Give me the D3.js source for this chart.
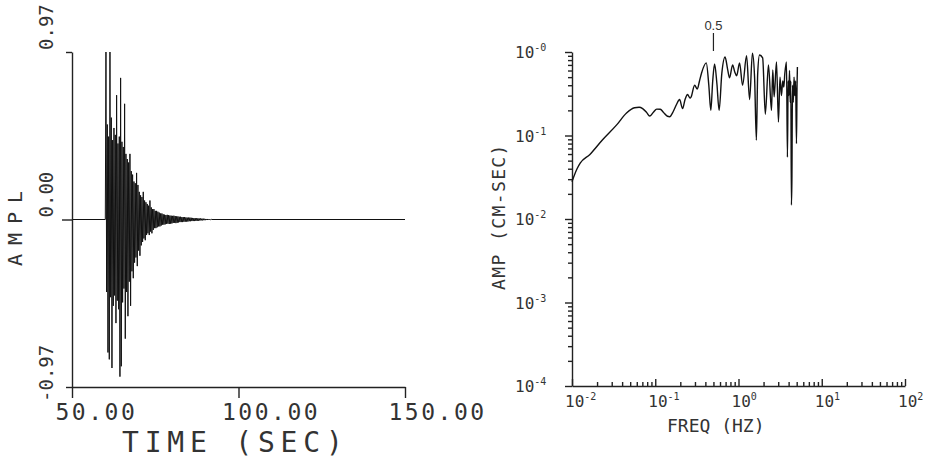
<!DOCTYPE html>
<html lang="en">
<head>
<meta charset="UTF-8">
<script src="https://cdnjs.cloudflare.com/ajax/libs/d3/7.8.5/d3.min.js"></script>
<title>Acceleration record and Fourier spectrum</title>
<style>
    body { margin: 0; background: #fff; }
    svg { display: block; }
    text { font-family: "DejaVu Sans Mono", monospace; fill: #333; }
    .axis path, .axis line { stroke: #222; stroke-width: 1.4; fill: none; }
</style>
</head>
<body>
<svg width="937" height="460"></svg>
<script>
// ---- left panel: time history ----
var timeTicks = [50, 100, 150];
var amplTicks = [-0.97, 0, 0.97];
var amplTickLabels = ["-0.97", "0.00", "0.97"];
var traceStart = 60.0;   // sec, first sample of the strong motion
var traceStep = 0.2;     // sec between samples
var traceValues = [
    0, 0.97, -0.42, 0.55, -0.77, 0.48, -0.81, 0.97, -0.45, 0.59,
    -0.86, 0.46, -0.50, 0.53, -0.44, 0.49, -0.60, 0.72, -0.47, 0.44,
    -0.52, 0.48, -0.91, 0.82, -0.85, 0.45, -0.48, 0.42, -0.40, 0.67,
    -0.69, 0.38, -0.42, 0.35, -0.56, 0.33, -0.36, 0.38, -0.50, 0.28,
    -0.30, 0.26, -0.34, 0.22, -0.25, 0.21, -0.22, 0.27, -0.27, 0.20,
    -0.18, 0.16, -0.21, 0.14, -0.15, 0.13, -0.13, 0.16, -0.11, 0.11,
    -0.12, 0.10, -0.09, 0.09, -0.08, 0.08, -0.09, 0.11, -0.07, 0.07,
    -0.08, 0.06, -0.06, 0.06, -0.05, 0.05, -0.05, 0.05, -0.045, 0.045,
    -0.04, 0.04, -0.04, 0.035, -0.035, 0.035, -0.03, 0.03, -0.03, 0.028,
    -0.028, 0.026, -0.025, 0.027, -0.024, 0.025, -0.026, 0.023, -0.024, 0.022,
    -0.023, 0.021, -0.020, 0.022, -0.019, 0.020, -0.021, 0.018, -0.019, 0.018,
    -0.017, 0.016, -0.015, 0.016, -0.015, 0.014, -0.015, 0.014, -0.013, 0.014,
    -0.013, 0.012, -0.012, 0.011, -0.012, 0.011, -0.010, 0.011, -0.010, 0.010,
    -0.009, 0.009, -0.009, 0.008, -0.009, 0.008, -0.008, 0.007, -0.008, 0.007,
    -0.007, 0.006, -0.006, 0.006, -0.005, 0.005, -0.005, 0.005, -0.004, 0.004,
    -0.004, 0.003, -0.003, 0.003, -0.003, 0.002, -0.002, 0.002, -0.002, 0.001,
    0
];

// ---- right panel: Fourier amplitude spectrum ----
var freqTicks = [0.01, 0.1, 1, 10, 100];
var freqTickExp = ["-2", "-1", "0", "1", "2"];
var ampTicks = [1e-4, 1e-3, 1e-2, 1e-1, 1];
var ampTickExp = ["-4", "-3", "-2", "-1", "-0"];
var markerFreq = 0.5;
var specFreq = [
    0.010, 0.0115, 0.0126, 0.0163, 0.0233, 0.0344, 0.0452, 0.0564, 0.0640, 0.0706,
    0.0790, 0.0857, 0.0950, 0.104, 0.115, 0.125, 0.140, 0.149, 0.165, 0.180,
    0.196, 0.213, 0.228, 0.244, 0.262, 0.270, 0.297, 0.320, 0.340, 0.360,
    0.410, 0.440, 0.465, 0.490, 0.516, 0.550, 0.585, 0.630, 0.690, 0.740,
    0.780, 0.850, 0.900, 0.950, 1.03, 1.12, 1.25, 1.36, 1.47, 1.56,
    1.64, 1.70, 1.79, 1.95, 2.10, 2.29, 2.49, 2.58, 2.68, 2.86,
    3.02, 3.15, 3.28, 3.40, 3.50, 3.60, 3.77, 3.87, 3.95, 4.02,
    4.10, 4.18, 4.25, 4.32, 4.38, 4.45, 4.55, 4.65, 4.75, 4.85,
    4.97, 5.05, 5.10
];
var specAmp = [
    0.028, 0.040, 0.047, 0.059, 0.089, 0.134, 0.186, 0.215, 0.218, 0.210,
    0.188, 0.171, 0.190, 0.207, 0.206, 0.190, 0.170, 0.168, 0.195, 0.235,
    0.27, 0.21, 0.27, 0.31, 0.28, 0.29, 0.40, 0.36, 0.45, 0.56,
    0.74, 0.40, 0.20, 0.45, 0.72, 0.42, 0.20, 0.55, 0.87, 0.62,
    0.49, 0.70, 0.58, 0.52, 0.74, 0.40, 0.90, 0.27, 0.97, 0.50,
    0.088, 0.55, 0.92, 0.85, 0.18, 0.70, 0.20, 0.61, 0.29, 0.76,
    0.145, 0.50, 0.30, 0.45, 0.38, 0.55, 0.76, 0.055, 0.45, 0.30,
    0.60, 0.25, 0.45, 0.0147, 0.03, 0.40, 0.25, 0.50, 0.30, 0.45,
    0.08, 0.40, 0.66
];

var svg = d3.select("svg");

// ================= left panel =================
var xT = d3.scaleLinear().domain([50, 150]).range([72, 405]);
var yA = d3.scaleLinear().domain([-0.97, 0.97]).range([387, 52]);

var trace = [{ t: 50, v: 0 }];
traceValues.forEach(function (v, i) {
    trace.push({ t: traceStart + i * traceStep, v: v });
});
trace.push({ t: 150, v: 0 });

svg.append("path")
    .datum(trace)
    .attr("fill", "none")
    .attr("stroke", "#111")
    .attr("stroke-width", 1)
    .attr("d", d3.line().x(d => xT(d.t)).y(d => yA(d.v)));

var xAxisL = d3.axisBottom(xT)
    .tickValues(timeTicks)
    .tickSizeInner(11)
    .tickSizeOuter(0)
    .tickFormat(d3.format(".2f"));

var gxl = svg.append("g")
    .attr("class", "axis")
    .attr("transform", "translate(0," + yA(-0.97) + ")")
    .call(xAxisL);
gxl.selectAll("text")
    .attr("text-anchor", "start")
    .attr("x", -17)
    .attr("y", 33)
    .attr("dy", 0)
    .style("font-size", "23px")
    .style("letter-spacing", "2.5px");

var yAxisL = d3.axisLeft(yA)
    .tickValues(amplTicks)
    .tickSizeInner(6)
    .tickSizeOuter(0)
    .tickFormat("");
var gyl = svg.append("g")
    .attr("class", "axis")
    .attr("transform", "translate(" + xT(50) + ",0)")
    .call(yAxisL);
gyl.selectAll(".tick line").attr("x2", d => d === 0 ? -10 : -6);

// rotated amplitude labels
svg.selectAll("text.amplLabel")
    .data(amplTicks)
    .enter()
    .append("text")
    .attr("class", "amplLabel")
    .attr("transform", (d, i) => "translate(53," + (yA(d) + (d < 0 ? 15 : -2)) + ") rotate(-90)")
    .attr("text-anchor", "start")
    .style("font-size", "19px")
    .text((d, i) => amplTickLabels[i]);

svg.append("text")
    .attr("transform", "translate(22,266) rotate(-90)")
    .style("font-size", "20px")
    .style("letter-spacing", "9px")
    .text("AMPL");

svg.append("text")
    .attr("x", 122)
    .attr("y", 452)
    .style("font-size", "28px")
    .style("letter-spacing", "5.8px")
    .text("TIME (SEC)");

// ================= right panel =================
var xF = d3.scaleLog().domain([0.01, 100]).range([572, 905]);
var yS = d3.scaleLog().domain([1e-4, 1]).range([386, 52]);

function isDecade(d) {
    var l = Math.log10(d);
    return Math.abs(l - Math.round(l)) < 1e-9;
}

var xAxisR = d3.axisBottom(xF)
    .tickValues(xF.ticks())
    .tickSizeInner(-4)
    .tickSizeOuter(0)
    .tickFormat("");
var gxr = svg.append("g")
    .attr("class", "axis")
    .attr("transform", "translate(0," + yS(1e-4) + ")")
    .call(xAxisR);
gxr.selectAll(".tick line").attr("y2", d => isDecade(d) ? -7 : -4);

var yAxisR = d3.axisLeft(yS)
    .tickValues(yS.ticks())
    .tickSizeInner(4)
    .tickSizeOuter(0)
    .tickFormat("");
var gyr = svg.append("g")
    .attr("class", "axis")
    .attr("transform", "translate(" + xF(0.01) + ",0)")
    .call(yAxisR);
gyr.selectAll(".tick line").attr("x2", d => isDecade(d) ? -7 : -4);

// decade labels with superscripts
var yLab = svg.selectAll("text.ampTick")
    .data(ampTicks)
    .enter()
    .append("text")
    .attr("class", "ampTick")
    .attr("x", 515)
    .attr("y", d => yS(d) + 6)
    .style("font-size", "16px");
yLab.append("tspan").text("10");
yLab.append("tspan")
    .attr("dy", -7)
    .style("font-size", "10px")
    .text((d, i) => ampTickExp[i]);

var xLab = svg.selectAll("text.freqTick")
    .data(freqTicks)
    .enter()
    .append("text")
    .attr("class", "freqTick")
    .attr("x", d => xF(d) - 7)
    .attr("y", 407)
    .style("font-size", "16px");
xLab.append("tspan").text("10");
xLab.append("tspan")
    .attr("dy", -7)
    .style("font-size", "10px")
    .text((d, i) => freqTickExp[i]);

svg.append("text")
    .attr("x", 667)
    .attr("y", 432)
    .style("font-size", "18px")
    .text("FREQ (HZ)");

svg.append("text")
    .attr("transform", "translate(505,290) rotate(-90)")
    .style("font-size", "18px")
    .style("letter-spacing", "1.4px")
    .text("AMP (CM-SEC)");

// spectrum curve
var spectrum = specFreq.map((f, i) => ({ f: f, a: specAmp[i] }));
svg.append("path")
    .datum(spectrum)
    .attr("fill", "none")
    .attr("stroke", "#111")
    .attr("stroke-width", 1.4)
    .attr("d", d3.line().x(d => xF(d.f)).y(d => yS(d.a)).curve(d3.curveMonotoneX));

// 0.5 Hz marker
svg.append("line")
    .attr("x1", xF(markerFreq)).attr("x2", xF(markerFreq))
    .attr("y1", 33).attr("y2", 51)
    .attr("stroke", "#222")
    .attr("stroke-width", 1.2);
svg.append("text")
    .attr("x", xF(markerFreq))
    .attr("y", 30)
    .attr("text-anchor", "middle")
    .style("font-family", "'Liberation Sans', Arial, sans-serif")
    .style("font-size", "13px")
    .text(markerFreq);
</script>
</body>
</html>
